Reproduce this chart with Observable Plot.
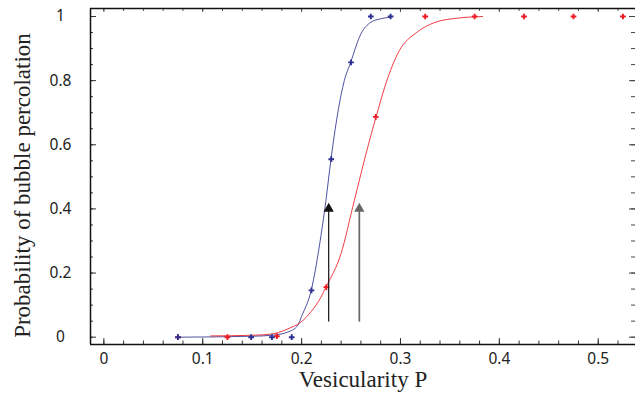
<!DOCTYPE html>
<html>
<head>
<meta charset="utf-8">
<script src="https://cdn.jsdelivr.net/npm/d3@7"></script>
<script src="https://cdn.jsdelivr.net/npm/@observablehq/plot@0.6"></script>
<style>
  html, body { margin: 0; padding: 0; background: #fff; }
</style>
</head>
<body>
<div id="chart"></div>
<script>
// ---- data ----
const blueP = [0.075, 0.149, 0.170, 0.190, 0.210, 0.230, 0.250, 0.270, 0.290];
const blueProb = [0, 0, 0, 0, 0.146, 0.555, 0.857, 1, 1];

const redP = [0.075, 0.125, 0.175, 0.225, 0.275, 0.325, 0.375, 0.425, 0.475, 0.525];
const redProb = [0, 0, 0.003, 0.156, 0.687, 1, 1, 1, 1, 1];

// fitted curves
const blueFitP = [0.075, 0.150, 0.170, 0.186, 0.196, 0.200, 0.2097, 0.2196, 0.2246, 0.2297, 0.2432, 0.2496, 0.260, 0.270, 0.280, 0.290];
const blueFitProb = [0, 0.003, 0.006, 0.016, 0.036, 0.065, 0.146, 0.317, 0.426, 0.555, 0.800, 0.857, 0.946, 0.982, 0.993, 0.998];

const redFitP = [0.108, 0.150, 0.170, 0.176, 0.186, 0.1993, 0.2097, 0.2196, 0.2246, 0.2398, 0.2533, 0.265, 0.2753, 0.2871, 0.2989, 0.3158, 0.3343, 0.358, 0.383];
const redFitProb = [0.004, 0.006, 0.010, 0.014, 0.026, 0.047, 0.080, 0.125, 0.156, 0.260, 0.426, 0.570, 0.687, 0.808, 0.894, 0.949, 0.981, 0.995, 1.0];

// arrows marking thresholds
const arrowP = [0.2274, 0.2584];
const arrowFrom = [0.047, 0.047];
const arrowTo = [0.41, 0.41];

// axes
const xTicks = [0, 0.1, 0.2, 0.3, 0.4, 0.5];
const xMinor = d3.range(-0.00, 0.5401, 0.02).map(v => +v.toFixed(2));
const yTicks = [0, 0.2, 0.4, 0.6, 0.8, 1];
const yMinor = d3.range(0, 1.0001, 0.05).map(v => +v.toFixed(2));
const xDomain = [-0.0135, 0.5377];
const yDomain = [-0.0228, 1.025];
const xTitle = "Vesicularity P";
const yTitle = "Probability of bubble percolation";

// ---- build tables ----
const bluePts = blueP.map((p, i) => ({p, v: blueProb[i]}));
const redPts = redP.map((p, i) => ({p, v: redProb[i]}));
const blueFit = blueFitP.map((p, i) => ({p, v: blueFitProb[i]}));
const redFit = redFitP.map((p, i) => ({p, v: redFitProb[i]}));
const arrows = arrowP.map((p, i) => ({p, y1: arrowFrom[i], y2: arrowTo[i], c: i === 0 ? "#111" : "#666", w: i === 0 ? 1.2 : 1.7}));

const W = 635, H = 402;
const mL = 90, mT = 8, mB = 58, mR = 0;
const fw = W - mL - mR, fh = H - mT - mB;
const BLUE = "#2e3192", RED = "#ed1c24";
const tickFont = "'Noto Sans', 'Open Sans', sans-serif";
const serif = "'Liberation Serif', 'DejaVu Serif', serif";

const chart = Plot.plot({
  width: W, height: H,
  marginLeft: mL, marginTop: mT, marginBottom: mB, marginRight: mR,
  style: {fontFamily: tickFont, fontSize: "15.5px", color: "#222", background: "#fff"},
  x: {domain: xDomain},
  y: {domain: yDomain},
  marks: [
    // axis labels
    Plot.axisX(xTicks, {anchor: "bottom", tickSize: 0, tickPadding: 8, tickFormat: d => String(d), fontSize: 15.5, label: null}),
    Plot.axisY(yTicks, {anchor: "left", tickSize: 0, tickPadding: 30, textAnchor: "middle", tickFormat: d => String(d), fontSize: 15.5, label: null}),
    // inward ticks: bottom & top
    Plot.tickX(xMinor, {x: d => d, insetTop: fh - 3.5, stroke: "#333"}),
    Plot.tickX(xTicks, {x: d => d, insetTop: fh - 6, stroke: "#333"}),
    Plot.tickX(xMinor, {x: d => d, insetBottom: fh - 3, stroke: "#555"}),
    Plot.tickX(xTicks, {x: d => d, insetBottom: fh - 4, stroke: "#555"}),
    // inward ticks: left & right
    Plot.tickY(yMinor, {y: d => d, insetRight: fw - 3, stroke: "#333"}),
    Plot.tickY(yTicks, {y: d => d, insetRight: fw - 6, stroke: "#333"}),
    Plot.tickY(yMinor, {y: d => d, insetLeft: fw - 4, stroke: "#444"}),
    Plot.tickY(yTicks, {y: d => d, insetLeft: fw - 6, stroke: "#444"}),
    // frame (top, left, bottom)
    Plot.ruleY([yDomain[0]], {stroke: "#111", strokeWidth: 1.5}),
    Plot.ruleY([yDomain[1]], {stroke: "#111", strokeWidth: 1.5}),
    Plot.ruleX([xDomain[0]], {stroke: "#111", strokeWidth: 1.5}),
    // fitted curves
    Plot.line(blueFit, {x: "p", y: "v", stroke: BLUE, strokeWidth: 1, curve: "monotone-x", strokeOpacity: 0.85}),
    Plot.line(redFit, {x: "p", y: "v", stroke: RED, strokeWidth: 1, curve: "monotone-x", strokeOpacity: 0.85}),
    // data points
    Plot.dot(redPts, {x: "p", y: "v", symbol: "cross", fill: RED, r: 2.4}),
    Plot.dot(bluePts, {x: "p", y: "v", symbol: "cross", fill: BLUE, r: 2.4}),
    // arrows
    Plot.ruleX(arrows, {x: "p", y1: "y1", y2: "y2", stroke: "c", strokeWidth: "w"}),
    Plot.dot(arrows, {x: "p", y: "y2", symbol: "triangle", fill: "c", r: 3.8, dy: 3}),
    // axis titles
    Plot.text([xTitle], {frameAnchor: "bottom", dy: 42, text: d => d, fontFamily: serif, fontSize: 23, fill: "#222"}),
    Plot.text([yTitle], {frameAnchor: "left", textAnchor: "middle", dx: -68, dy: 9, rotate: -90, text: d => d, fontFamily: serif, fontSize: 23, fill: "#222"})
  ]
});
document.getElementById("chart").appendChild(chart);
</script>
</body>
</html>
